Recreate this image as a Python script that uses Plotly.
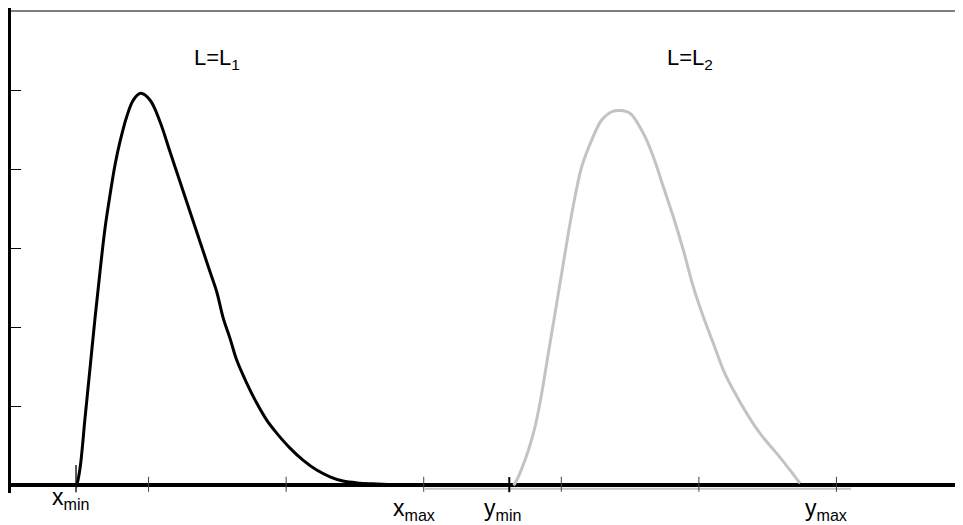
import plotly.graph_objects as go

# ---- data ----
l1_x = [0.4725, 0.4776, 0.5016, 0.5379, 0.5743, 0.6106, 0.6469, 0.6833, 0.7196, 0.7560,
        0.7923, 0.8410, 0.8890, 0.9428, 1.0104, 1.0831, 1.1558, 1.2285, 1.3012, 1.3738,
        1.4465, 1.4952, 1.5432, 1.5919, 1.6406, 1.7133, 1.7860, 1.8587, 1.9314, 2.0280,
        2.1225, 2.2221, 2.3188, 2.4133, 2.5369, 2.6583, 2.8276]
l1_y = [-0.02, 0.0, 0.211, 0.844, 1.477, 2.110, 2.700, 3.249, 3.671, 4.051,
        4.346, 4.662, 4.873, 4.958, 4.873, 4.599, 4.219, 3.839, 3.459, 3.080,
        2.700, 2.447, 2.110, 1.857, 1.582, 1.291, 1.038, 0.823, 0.658, 0.468,
        0.316, 0.190, 0.105, 0.051, 0.025, 0.013, 0.0]

l2_x = [3.6512, 3.6636, 3.7363, 3.8090, 3.8577, 3.9056, 3.9543, 4.0030, 4.0510, 4.0997,
        4.1484, 4.2211, 4.2938, 4.3665, 4.4268, 4.4995, 4.5962, 4.6689, 4.7416, 4.8142,
        4.8869, 4.9596, 5.0323, 5.1050, 5.1777, 5.2504, 5.3478, 5.4445, 5.5659, 5.6626,
        5.7353]
l2_y = [0.0, 0.022, 0.317, 0.738, 1.161, 1.667, 2.173, 2.680, 3.186, 3.649,
        4.029, 4.367, 4.620, 4.725, 4.741, 4.705, 4.452, 4.156, 3.776, 3.396,
        2.975, 2.510, 2.130, 1.794, 1.456, 1.203, 0.908, 0.654, 0.401, 0.190,
        0.022]

# faint grey baseline of the L2 curve (runs just under the axis)
l2_base_x = [3.0094, 6.1060]
l2_base_y = [-0.045, -0.045]

x_ticks = [1, 2, 3, 4, 5, 6]
y_ticks = [1, 2, 3, 4, 5]
x_min_pos = 0.4725
y_min_pos = 3.622

axis_labels = ["x<sub>min</sub>", "x<sub>max</sub>", "y<sub>min</sub>", "y<sub>max</sub>"]
axis_label_x = [0.43, 2.929, 3.576, 5.924]
curve_labels = ["L=L<sub>1</sub>", "L=L<sub>2</sub>"]
curve_label_x = [1.497, 4.936]

FONT = "Liberation Sans, Arial, Helvetica, sans-serif"

fig = go.Figure()

# grey baseline (under the axis)
fig.add_trace(go.Scatter(x=l2_base_x, y=l2_base_y, mode="lines",
                         line=dict(color="#c3c3c3", width=2), hoverinfo="skip"))

# tick marks crossing the horizontal axis
tx, ty = [], []
for t in x_ticks:
    tx += [t, t, None]
    ty += [-0.085, 0.105, None]
fig.add_trace(go.Scatter(x=tx, y=ty, mode="lines",
                         line=dict(color="#444444", width=1), hoverinfo="skip"))
fig.add_trace(go.Scatter(x=[x_min_pos, x_min_pos], y=[-0.09, 0.253], mode="lines",
                         line=dict(color="#222222", width=1.5), hoverinfo="skip"))
fig.add_trace(go.Scatter(x=[y_min_pos, y_min_pos], y=[-0.09, 0.101], mode="lines",
                         line=dict(color="black", width=2), hoverinfo="skip"))

# curves
fig.add_trace(go.Scatter(x=l2_x, y=l2_y, mode="lines",
                         line=dict(color="#c3c3c3", width=3, shape="spline", smoothing=1.0),
                         hoverinfo="skip"))
fig.add_trace(go.Scatter(x=l1_x, y=l1_y, mode="lines",
                         line=dict(color="black", width=3, shape="spline", smoothing=1.0),
                         hoverinfo="skip"))

# axis value labels (below the axis)
label_paper_y = [-0.0105, -0.0332, -0.0332, -0.0332]
for txt, ax_, ay_ in zip(axis_labels, axis_label_x, label_paper_y):
    fig.add_annotation(x=ax_, y=ay_, xref="x", yref="paper", text=txt, showarrow=False,
                       font=dict(family=FONT, size=23, color="black"),
                       xanchor="center", yanchor="middle")
for txt, ax_ in zip(curve_labels, curve_label_x):
    fig.add_annotation(x=ax_, y=5.392, xref="x", yref="y", text=txt, showarrow=False,
                       font=dict(family=FONT, size=22, color="black"),
                       xanchor="center", yanchor="middle")

# thin top border line
fig.add_shape(type="line", xref="paper", yref="y", x0=0, x1=1, y0=6, y1=6,
              line=dict(color="black", width=1))

fig.update_layout(
    width=955, height=517,
    margin=dict(l=3, r=0, t=0, b=32, pad=0),
    paper_bgcolor="white", plot_bgcolor="white",
    showlegend=False,
    font=dict(family=FONT),
    xaxis=dict(range=[0, 6.92], showgrid=False, zeroline=False, showline=False,
               showticklabels=False, ticks=""),
    yaxis=dict(range=[-0.1, 6.038], showgrid=False,
               zeroline=True, zerolinecolor="black", zerolinewidth=4,
               showline=True, linecolor="black", linewidth=4,
               tickmode="array", tickvals=y_ticks, ticks="inside", ticklen=10,
               tickwidth=1, tickcolor="black", showticklabels=False),
)

fig.write_html("out.html")
